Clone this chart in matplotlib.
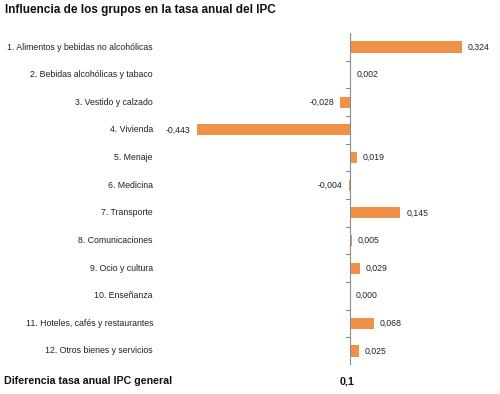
import matplotlib.pyplot as plt
import matplotlib.transforms as mtransforms

plt.rcParams['font.family'] = ['Liberation Sans', 'DejaVu Sans']

# Datos
grupos = [
    "1. Alimentos y bebidas no alcohólicas",
    "2. Bebidas alcohólicas y tabaco",
    "3. Vestido y calzado",
    "4. Vivienda",
    "5. Menaje",
    "6. Medicina",
    "7. Transporte",
    "8. Comunicaciones",
    "9. Ocio y cultura",
    "10. Enseñanza",
    "11. Hoteles, cafés y restaurantes",
    "12. Otros bienes y servicios",
]
valores = [0.324, 0.002, -0.028, -0.443, 0.019, -0.004, 0.145, 0.005, 0.029, 0.000, 0.068, 0.025]
titulo = "Influencia de los grupos en la tasa anual del IPC"
pie_texto = "Diferencia tasa anual IPC general"
pie_valor = "0,1"

W, H = 500, 394
fig = plt.figure(figsize=(W / 100, H / 100), dpi=100)

# ejes en pixeles: x 190..470, y 33.2..364.8
x0, x1 = 190, 470
y0, y1 = 33.2, 364.8
ax = fig.add_axes([x0 / W, 1 - y1 / H, (x1 - x0) / W, (y1 - y0) / H])

escala = 346.0  # px por unidad
cero = 350
ax.set_xlim(-(cero - x0) / escala, (x1 - cero) / escala)
ax.set_ylim(len(grupos) - 0.5, -0.5)

pos = list(range(len(grupos)))
ax.barh(pos, valores, height=0.4, color='#F0914A')

for s in ax.spines.values():
    s.set_visible(False)
ax.axvline(0, color='#8c8c8c', linewidth=0.8)
ax.set_xticks([])
ax.set_yticks([])

# marcas de separacion sobre el eje
for b in [p + 0.5 for p in pos[:-1]]:
    ax.plot([-4 / escala, 0], [b, b], color='#8c8c8c', linewidth=0.8)

trans = mtransforms.blended_transform_factory(fig.transFigure, ax.transData)
for p, g in zip(pos, grupos):
    ax.text(153 / W, p, g, transform=trans, ha='right', va='center', fontsize=6.3, color='#222222')

for p, v in zip(pos, valores):
    etiqueta = f"{v:.3f}".replace('.', ',')
    if v < 0:
        ax.text(v - 6 / escala, p, etiqueta, ha='right', va='center', fontsize=6.3, color='#222222')
    else:
        ax.text(v + 6 / escala, p, etiqueta, ha='left', va='center', fontsize=6.3, color='#222222')

fig.text(5 / W, 1 - 9.5 / H, titulo, ha='left', va='center', fontsize=8.5, fontweight='bold', color='#111111')
fig.text(4 / W, 1 - 381 / H, pie_texto, ha='left', va='center', fontsize=7.7, fontweight='bold', color='#111111')
fig.text(347 / W, 1 - 381 / H, pie_valor, ha='center', va='center', fontsize=7.7, fontweight='bold', color='#111111')

fig.savefig('out.png', dpi=100)
